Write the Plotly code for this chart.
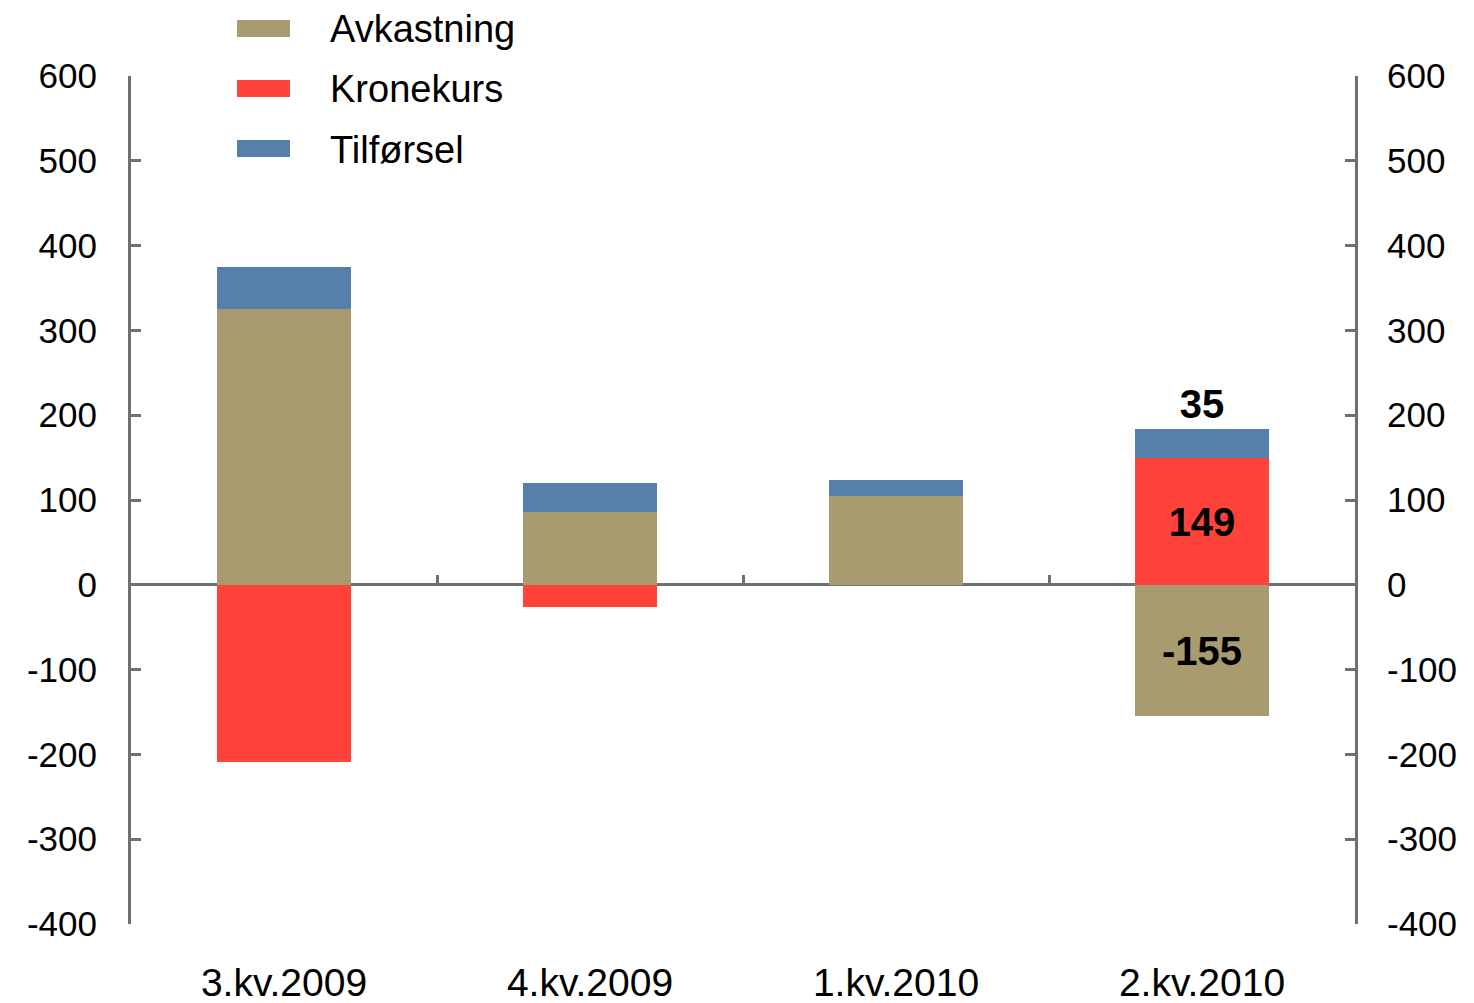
import plotly.graph_objects as go

categories = ["3.kv.2009", "4.kv.2009", "1.kv.2010", "2.kv.2010"]
avkastning = [325, 86, 105, -155]
kronekurs = [-209, -26, 0, 149]
tilforsel = [50, 34, 19, 35]
y_ticks = [600, 500, 400, 300, 200, 100, 0, -100, -200, -300, -400]
y_ticktext = [str(v) for v in y_ticks]

series = [
    ("Avkastning", avkastning, "#A89B6F"),
    ("Kronekurs", kronekurs, "#FF433B"),
    ("Tilførsel", tilforsel, "#5480AA"),
]

FONT = "Liberation Sans, Arial, sans-serif"
AXC = "#707070"
idx = list(range(len(categories)))
labelled = len(categories) - 1

fig = go.Figure()
for name, vals, col in series:
    text = [str(v) if i == labelled else "" for i, v in enumerate(vals)]
    pos = "outside" if name == "Tilførsel" else "inside"
    fig.add_trace(go.Bar(
        name=name, x=idx, y=vals, marker=dict(color=col, line=dict(width=0)),
        width=0.44, text=text, textposition=pos, insidetextanchor="middle",
        textfont=dict(family=FONT, size=40, color="black", weight="bold"),
        constraintext="none", cliponaxis=False, showlegend=False,
        hoverinfo="skip",
    ))

# empty helper traces so the right axis and the zero-line tick axis are drawn
fig.add_trace(go.Scatter(x=[], y=[], xaxis="x2", yaxis="y", showlegend=False,
                         hoverinfo="skip"))
fig.add_trace(go.Scatter(x=[], y=[], xaxis="x", yaxis="y2", showlegend=False,
                         hoverinfo="skip"))

# Manual legend (paper coords; plot area is 1224 x 848 px)
PW, PH = 1224, 848
leg_y = [20, 80, 140]
for (name, vals, col), yt in zip(series, leg_y):
    yc = yt + 8.5
    fig.add_shape(type="rect", xref="paper", yref="paper",
                  x0=(237 - 131) / PW, x1=(290 - 131) / PW,
                  y0=(924 - yt) / PH, y1=(924 - yt - 17) / PH,
                  fillcolor=col, line=dict(width=0))
    fig.add_annotation(xref="paper", yref="paper", x=(329 - 131) / PW,
                       y=(924 - yc - 1) / PH, text=name, showarrow=False,
                       xanchor="left", yanchor="middle", borderpad=0,
                       font=dict(family=FONT, size=38, color="black"))

fig.update_layout(
    width=1466, height=995,
    margin=dict(l=123, r=119, t=68, b=79),
    paper_bgcolor="white", plot_bgcolor="white",
    barmode="relative", bargap=0,
    font=dict(family=FONT, size=35, color="black"),
    xaxis=dict(range=[-0.5, len(categories) - 0.5], tickvals=idx,
               ticktext=categories, showline=False, showgrid=False,
               zeroline=False, ticks="", ticklabelstandoff=32,
               tickfont=dict(size=39), automargin=False),
    xaxis2=dict(overlaying="x", anchor="free", position=0.4,
                range=[-0.5, len(categories) - 0.5],
                tickvals=[i + 0.5 for i in idx[:-1]], ticks="inside",
                ticklen=10, tickwidth=3, tickcolor=AXC, showticklabels=False,
                showline=False, showgrid=False, zeroline=False,
                automargin=False),
    yaxis=dict(range=[-400, 600], tickvals=y_ticks, ticktext=y_ticktext,
               showgrid=False, showline=True, linecolor=AXC, linewidth=3,
               ticks="inside", ticklen=10, tickwidth=3, tickcolor=AXC,
               zeroline=True, zerolinecolor=AXC, zerolinewidth=3,
               ticklabelstandoff=24, tickfont=dict(size=35), automargin=False),
    yaxis2=dict(overlaying="y", side="right", anchor="x", range=[-400, 600],
                tickvals=y_ticks, ticktext=y_ticktext, showgrid=False,
                showline=True, linecolor=AXC, linewidth=3, ticks="inside",
                ticklen=10, tickwidth=3, tickcolor=AXC, zeroline=False,
                ticklabelstandoff=22, tickfont=dict(size=35), automargin=False),
)

fig.write_html("out.html")
